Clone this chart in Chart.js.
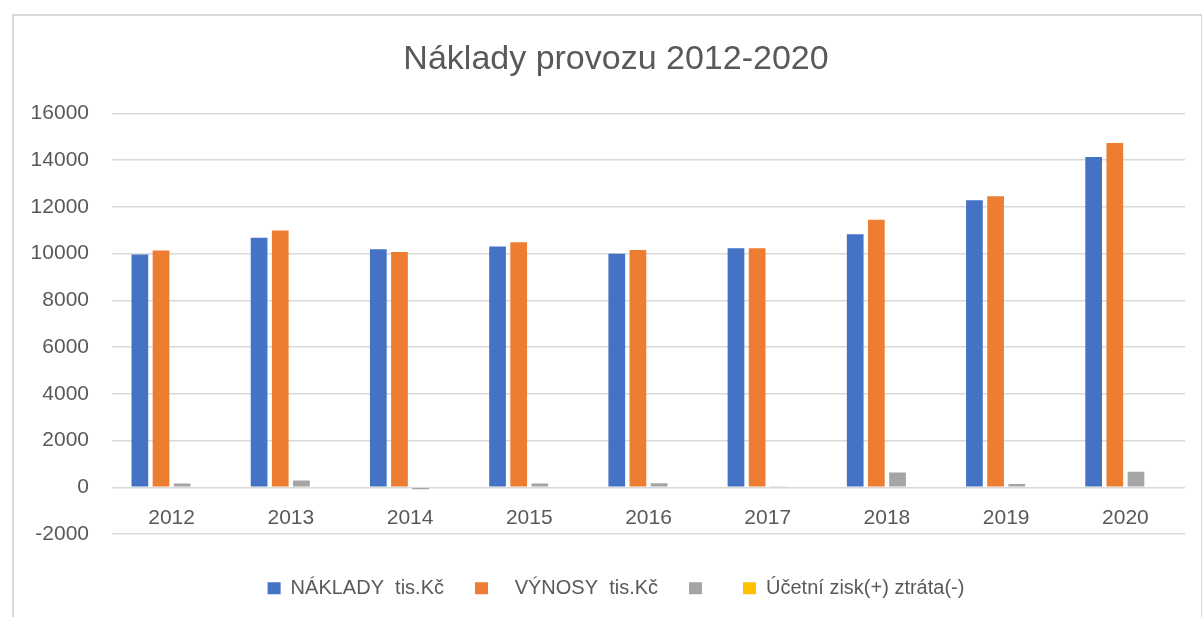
<!DOCTYPE html>
<html>
<head>
<meta charset="utf-8">
<script src="https://cdn.jsdelivr.net/npm/chart.js@4.4.0/dist/chart.umd.min.js"></script>
<style>
  html, body { margin: 0; padding: 0; background: #fff; overflow: hidden; }
  #ramecek { position: absolute; left: 12px; top: 14px; width: 1187px; height: 640px;
             border: 2px solid #d9d9d9; border-bottom: none; }
  #graf { position: absolute; left: 12px; top: 14px; }
</style>
</head>
<body>
<div id="ramecek"></div>
<canvas id="graf" width="1208" height="600"></canvas>
<script>
const roky = ['2012', '2013', '2014', '2015', '2016', '2017', '2018', '2019', '2020'];
const naklady = [9960, 10670, 10185, 10300, 9990, 10230, 10830, 12280, 14130];
const vynosy = [10130, 10985, 10070, 10480, 10150, 10230, 11450, 12450, 14730];
const sedy = [160, 290, -90, 160, 170, 20, 630, 140, 660];
const zisk = [null, null, null, null, null, null, null, null, null];

const seda = '#595959';

new Chart(document.getElementById('graf').getContext('2d'), {
  type: 'bar',
  data: {
    labels: roky,
    datasets: [
      { label: 'NÁKLADY  tis.Kč', data: naklady, backgroundColor: '#4472C4' },
      { label: '   VÝNOSY  tis.Kč', data: vynosy, backgroundColor: '#ED7D31' },
      { label: '', data: sedy, backgroundColor: '#A5A5A5' },
      { label: 'Účetní zisk(+) ztráta(-)', data: zisk, backgroundColor: '#FFC000' }
    ]
  },
  options: {
    responsive: false,
    animation: false,
    categoryPercentage: 0.71,
    barPercentage: 0.79,
    layout: { padding: { left: 0, right: 0, top: 0, bottom: 5.8 } },
    plugins: {
      tooltip: { enabled: false },
      title: {
        display: true,
        text: 'Náklady provozu 2012-2020',
        color: seda,
        font: { family: 'Liberation Sans', size: 34, weight: 'normal' },
        padding: { top: 25.6, bottom: 32.9 }
      },
      legend: {
        position: 'bottom',
        // prazdny titulek jen odsune legendu niz
        title: { display: true, text: '', font: { size: 1 }, padding: { top: 12, bottom: 0 } },
        labels: {
          boxWidth: 13,
          boxHeight: 12,
          padding: 31,
          color: seda,
          font: { family: 'Liberation Sans', size: 20 }
        }
      }
    },
    scales: {
      x: {
        position: { y: 0 },
        grid: { display: false, drawTicks: false },
        border: { display: false },
        ticks: { color: seda, padding: 18, font: { family: 'Liberation Sans', size: 21 } }
      },
      y: {
        min: -2000,
        max: 16000,
        afterFit: s => { s.width = 100; },
        grid: { color: '#d9d9d9', lineWidth: 1.5, drawTicks: false },
        border: { display: false },
        ticks: {
          stepSize: 2000,
          padding: 23,
          color: seda,
          font: { family: 'Liberation Sans', size: 21 },
          callback: v => String(v)
        }
      },
      // volne misto vpravo, aby titulek a legenda byly posunute jako v originale
      vpravo: {
        type: 'linear',
        position: 'right',
        grid: { display: false, drawTicks: false },
        border: { display: false },
        ticks: { display: false },
        afterFit: s => { s.width = 35; }
      }
    }
  }
});
</script>
</body>
</html>
